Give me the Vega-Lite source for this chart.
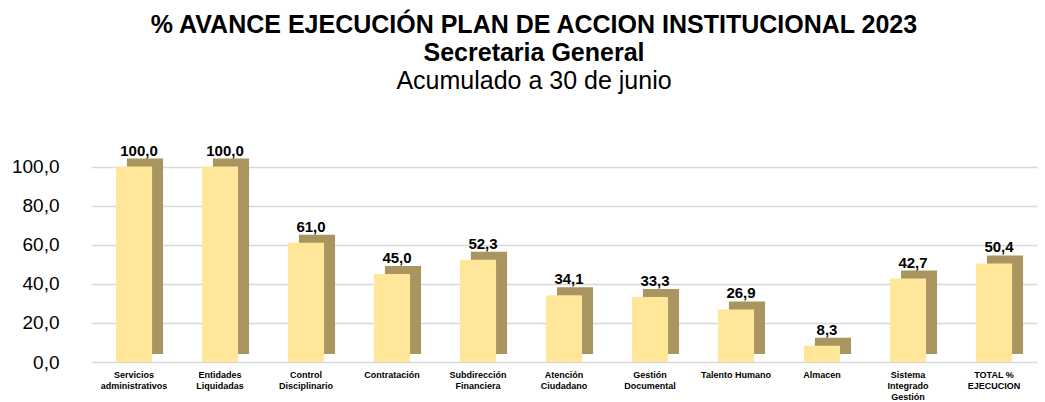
{
  "$schema": "https://vega.github.io/schema/vega-lite/v6.json",
  "width": 946,
  "height": 215,
  "autosize": "none",
  "padding": {"left": 91, "top": 147, "right": 8, "bottom": 40},
  "background": "white",
  "title": {
    "text": ["% AVANCE EJECUCIÓN PLAN DE ACCION INSTITUCIONAL 2023", "Secretaria General"],
    "subtitle": "Acumulado a 30 de junio",
    "font": "Liberation Sans",
    "fontSize": 25,
    "fontWeight": "bold",
    "lineHeight": 28,
    "color": "black",
    "subtitleFont": "Liberation Sans",
    "subtitleFontSize": 25,
    "subtitleFontWeight": "normal",
    "subtitleColor": "black",
    "subtitlePadding": 3,
    "anchor": "middle",
    "frame": "group",
    "dx": -30,
    "offset": 50
  },
  "data": {
    "values": [
      {"area": "Servicios|administrativos", "valor": 100.0},
      {"area": "Entidades|Liquidadas", "valor": 100.0},
      {"area": "Control|Disciplinario", "valor": 61.0},
      {"area": "Contratación", "valor": 45.0},
      {"area": "Subdirección|Financiera", "valor": 52.3},
      {"area": "Atención|Ciudadano", "valor": 34.1},
      {"area": "Gestión|Documental", "valor": 33.3},
      {"area": "Talento Humano", "valor": 26.9},
      {"area": "Almacen", "valor": 8.3},
      {"area": "Sistema|Integrado|Gestión", "valor": 42.7},
      {"area": "TOTAL %|EJECUCION", "valor": 50.4}
    ]
  },
  "encoding": {
    "x": {
      "field": "area",
      "type": "nominal",
      "sort": null,
      "scale": {"paddingInner": 0.58, "paddingOuter": 0.29},
      "axis": {
        "title": null,
        "labelAngle": 0,
        "labelExpr": "split(datum.value, '|')",
        "labelFont": "Liberation Sans",
        "labelFontSize": 9,
        "labelFontWeight": "bold",
        "labelColor": "black",
        "labelLineHeight": 11,
        "labelPadding": 8,
        "ticks": false,
        "domain": false,
        "labelBaseline": "top"
      }
    },
    "y": {
      "field": "valor",
      "type": "quantitative",
      "scale": {"domain": [0, 110], "nice": false},
      "axis": {
        "title": null,
        "values": [0, 20, 40, 60, 80, 100],
        "labelExpr": "replace(format(datum.value, '.1f'), '.', ',')",
        "labelFont": "Liberation Sans",
        "labelFontSize": 19,
        "labelColor": "black",
        "labelPadding": 32,
        "ticks": false,
        "domain": false,
        "gridColor": "#D9D9D9",
        "gridWidth": 1.5
      }
    }
  },
  "layer": [
    {
      "mark": {"type": "bar", "color": "#A8955F", "xOffset": 11, "yOffset": -8}
    },
    {
      "mark": {"type": "bar", "color": "#FFE699"}
    },
    {
      "mark": {
        "type": "text",
        "baseline": "bottom",
        "dy": -8,
        "dx": 5,
        "font": "Liberation Sans",
        "fontSize": 15,
        "fontWeight": "bold",
        "color": "black"
      },
      "encoding": {
        "text": {"field": "valor", "type": "quantitative", "format": ".1f"}
      }
    }
  ],
  "config": {
    "view": {"stroke": null},
    "locale": {"number": {"decimal": ",", "thousands": ".", "grouping": [3], "currency": ["$", ""]}}
  }
}
